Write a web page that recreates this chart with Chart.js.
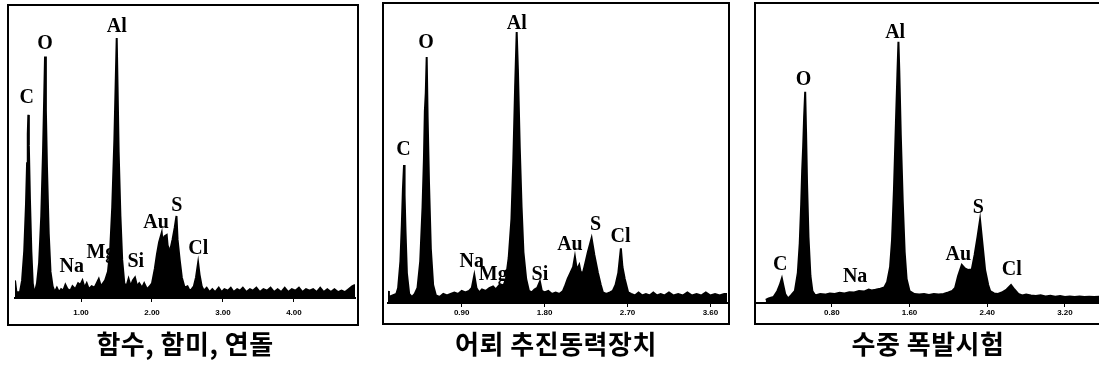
<!DOCTYPE html>
<html>
<head>
<meta charset="utf-8">
<script src="https://cdn.jsdelivr.net/npm/chart.js@4.4.0/dist/chart.umd.min.js"></script>
<style>
    body {
        margin: 0;
        width: 1099px;
        height: 368px;
        overflow: hidden;
        background: #fff;
        position: relative;
    }
    canvas {
        position: absolute;
    }
    .caption {
        position: absolute;
        top: 327px;
        line-height: 32px;
        transform: translateX(-50%);
        white-space: nowrap;
        font-family: "Noto Sans CJK KR", sans-serif;
        font-weight: 700;
        font-size: 26px;
        letter-spacing: 0.5px;
        color: #000;
    }
</style>
</head>
<body>

<canvas id="spec1" width="352" height="322" style="left:7px; top:4px;"></canvas>
<canvas id="spec2" width="348" height="323" style="left:382px; top:2px;"></canvas>
<canvas id="spec3" width="360" height="323" style="left:754px; top:2px;"></canvas>

<div class="caption" id="cap1" style="left:185px;"></div>
<div class="caption" id="cap2" style="left:556px;"></div>
<div class="caption" id="cap3" style="left:928px;"></div>

<script>
// ------------------------------
// Captions
// ------------------------------

const captions = ["함수, 함미, 연돌", "어뢰 추진동력장치", "수중 폭발시험"];

// ------------------------------
// Spectrum 1 (keV / relative counts)
// ------------------------------

const energy1 = [
    0.07, 0.09, 0.12, 0.14, 0.17, 0.20, 0.225, 0.24, 0.25, 0.258, 0.265, 0.28, 0.30, 0.32, 0.34, 0.36,
    0.38, 0.41, 0.44, 0.465, 0.48, 0.493, 0.505, 0.52, 0.545, 0.57, 0.60, 0.63,
    0.66, 0.69, 0.72, 0.75, 0.78, 0.81, 0.85, 0.88, 0.92, 0.96, 0.99, 1.02, 1.05, 1.08, 1.11, 1.15,
    1.19, 1.22, 1.25, 1.28, 1.31, 1.34,
    1.38, 1.41, 1.44, 1.47, 1.49, 1.503, 1.515, 1.53, 1.555, 1.58, 1.61, 1.64, 1.67, 1.70, 1.73,
    1.76, 1.79, 1.82, 1.86, 1.89, 1.93, 1.97,
    2.00, 2.04, 2.07, 2.10, 2.137, 2.15, 2.175, 2.207, 2.22, 2.25, 2.263, 2.29, 2.32, 2.345, 2.36,
    2.39, 2.42, 2.46, 2.50, 2.53, 2.56,
    2.59, 2.62, 2.65, 2.67, 2.70, 2.73,
    2.77, 2.81, 2.85, 2.89, 2.94, 2.98, 3.02, 3.07, 3.11, 3.15, 3.20, 3.24, 3.28, 3.33, 3.38, 3.42,
    3.47, 3.52, 3.57, 3.62, 3.67, 3.72, 3.77, 3.82, 3.87, 3.92, 3.97, 4.02, 4.07, 4.12, 4.17, 4.22,
    4.27, 4.32, 4.37, 4.42, 4.47, 4.52, 4.57, 4.62, 4.67, 4.72, 4.77, 4.82, 4.86
];
const counts1 = [
    6, 2, 2, 2, 6, 16, 32, 46, 56, 62.5, 52, 34, 16, 5, 2, 3,
    5, 12, 28, 50, 67, 82.4, 64, 45, 22, 9, 4, 2,
    3.5, 2, 3, 2.5, 4.5, 3, 2.5, 4, 3, 5, 4.5, 6, 3.5, 5, 3, 4,
    3.5, 5, 6.5, 4, 5, 6,
    9, 16, 31, 54, 75, 88.7, 72, 50, 28, 13, 5, 4, 6.5, 4, 6,
    7, 4, 5, 3.5, 5, 3, 4,
    5, 10, 15, 19, 22.2, 19, 21, 21.5, 18, 16, 17, 20, 24, 28, 20,
    13, 7, 3.5, 4, 2.5, 3,
    4, 7, 12, 8, 4, 2.5,
    3.5, 2, 3, 2, 3.5, 2, 3, 2.5, 3.5, 2, 3, 2.5, 3.5, 2, 3, 2.5,
    3.5, 2, 3, 2.5, 3.5, 2, 3, 2, 3.5, 2, 3, 2.5, 3.5, 2, 3, 2.5,
    3, 2, 3.5, 2, 3, 2, 3, 2, 2.5, 2, 3, 4, 4.5
];
const ticks1 = [1, 2, 3, 4];
const tickLabels1 = ["1.00", "2.00", "3.00", "4.00"];
const peaks1 = ["C", "O", "Al", "Na", "Mg", "Si", "Au", "S", "Cl"];
const peakEnergy1 = [0.235, 0.493, 1.503, 0.869, 1.28, 1.772, 2.056, 2.348, 2.652];
const peakCounts1 = [68.3, 86.9, 92.6, 10.7, 15.4, 12.4, 25.5, 31.5, 16.7];

// ------------------------------
// Spectrum 2
// ------------------------------

const energy2 = [
    0.10, 0.11, 0.15, 0.19,
    0.21, 0.235, 0.25, 0.262, 0.274, 0.28, 0.29, 0.305, 0.33, 0.36, 0.39,
    0.42, 0.45, 0.475, 0.49, 0.50, 0.51, 0.52, 0.53, 0.545, 0.565, 0.59, 0.62,
    0.66, 0.70, 0.74, 0.78, 0.82, 0.86, 0.90, 0.94, 0.98,
    1.01, 1.037, 1.06, 1.09, 1.12, 1.16, 1.20, 1.24, 1.27, 1.31, 1.35,
    1.38, 1.41, 1.44, 1.46, 1.48, 1.497, 1.51, 1.53, 1.55, 1.57, 1.60, 1.63,
    1.66, 1.69, 1.72, 1.749, 1.77, 1.80, 1.84, 1.88, 1.92, 1.96, 2.00,
    2.02, 2.05, 2.08, 2.11, 2.129, 2.15, 2.176, 2.19, 2.216, 2.24, 2.27, 2.31, 2.34, 2.379, 2.41,
    2.433, 2.47, 2.51,
    2.54, 2.57, 2.60, 2.628, 2.645, 2.67, 2.707, 2.74,
    2.78, 2.82, 2.86, 2.90, 2.94, 2.98, 3.02, 3.06, 3.10, 3.15, 3.20, 3.25, 3.30, 3.35, 3.40,
    3.45, 3.50, 3.55, 3.60, 3.65, 3.70, 3.75, 3.78
];
const counts2 = [
    4, 2, 2.5, 3,
    5, 14, 26, 38, 46, 36, 24, 10, 3, 2, 3,
    5, 14, 32, 48, 64, 70, 82, 62, 40, 18, 6, 2.5,
    2, 3, 2.5, 3, 3.5, 3, 4, 3.5, 4,
    5, 9.3, 5, 3.5, 4.5, 4, 5, 5.5, 4.5, 6, 5.5,
    8, 15, 28, 47, 72, 90.3, 78, 52, 32, 17, 8, 4,
    3.5, 4.5, 5, 7.1, 4, 3.5, 4, 3, 3.5, 3, 4,
    5.5, 8, 10, 12, 15.4, 11, 12.7, 10.5, 10, 13, 17, 21.6, 16, 10, 6,
    3.5, 3, 3.5,
    4, 6, 10, 18.2, 12, 8, 3.5, 3,
    2.5, 3.5, 2.5, 3, 2.5, 3.5, 2.5, 3, 2.5, 3.5, 2.5, 3, 2.5, 3.5, 2.5,
    3, 2.5, 3.5, 2.5, 3, 2.5, 3, 3
];
const ticks2 = [0.9, 1.8, 2.7, 3.6];
const tickLabels2 = ["0.90", "1.80", "2.70", "3.60"];
const peaks2 = ["C", "O", "Al", "Na", "Mg", "Si", "Au", "S", "Cl"];
const peakEnergy2 = [0.267, 0.513, 1.497, 1.009, 1.243, 1.749, 2.075, 2.353, 2.625];
const peakCounts2 = [51, 86.6, 93.2, 13.8, 9.3, 9.3, 19.3, 26, 22.1];

// ------------------------------
// Spectrum 3
// ------------------------------

const energy3 = [
    0.12, 0.15, 0.20, 0.24,
    0.265, 0.286, 0.30, 0.32, 0.35, 0.38,
    0.42, 0.45, 0.47, 0.485, 0.495, 0.505, 0.515, 0.526, 0.535, 0.545, 0.56, 0.58, 0.60, 0.63,
    0.68, 0.73, 0.78, 0.83, 0.88, 0.93, 0.98, 1.03, 1.08, 1.13, 1.18, 1.21, 1.25, 1.30, 1.34, 1.37,
    1.40, 1.42, 1.44, 1.46, 1.475, 1.486, 1.495, 1.51, 1.53, 1.55, 1.57, 1.60,
    1.65, 1.70, 1.75, 1.80, 1.85, 1.90, 1.95, 2.00, 2.04,
    2.069, 2.10, 2.138, 2.17, 2.20, 2.241, 2.27, 2.30, 2.326, 2.35, 2.378, 2.41, 2.43,
    2.47, 2.51, 2.55, 2.60, 2.645, 2.68, 2.72,
    2.76, 2.80, 2.85, 2.90, 2.95, 3.00, 3.05, 3.10, 3.15, 3.20, 3.25, 3.30, 3.35, 3.40, 3.45,
    3.50, 3.55, 3.60, 3.65, 3.67
];
const counts3 = [
    1, 1.5, 2, 4,
    6, 8.2, 6, 3, 1.5, 2.5,
    4, 10, 20, 33, 44, 52, 62, 70.4, 57, 40, 22, 9, 4, 2.5,
    3, 2.8, 3.2, 3, 3.4, 3.2, 3.6, 3.5, 4, 3.8, 4.5, 4.2, 4.4, 4.8, 5.2, 7,
    12, 21, 38, 60, 76, 87.1, 77, 56, 34, 17, 8, 4,
    3, 2.8, 3, 2.7, 3, 2.8, 3, 3.5, 4,
    5, 9, 12.7, 11.5, 11, 11.2, 16, 22, 27.7, 20, 11, 6, 4,
    3.2, 3, 3.5, 4.5, 6, 4.5, 3,
    2.5, 2.8, 2.5, 2.3, 2.6, 2.2, 2.4, 2.1, 2.3, 2, 2.2, 2, 2.2, 2, 2.1,
    2, 2.1, 2, 2.1, 2
];
const ticks3 = [0.8, 1.6, 2.4, 3.2];
const tickLabels3 = ["0.80", "1.60", "2.40", "3.20"];
const peaks3 = ["C", "O", "Al", "Na", "Au", "S", "Cl"];
const peakEnergy3 = [0.269, 0.508, 1.452, 1.04, 2.103, 2.309, 2.652];
const peakCounts3 = [12.7, 74.3, 89.9, 8.8, 16, 31.6, 11];

// ------------------------------
// Plugins: outer frame + peak names
// ------------------------------

const framePlugin = {
    id: "frame",
    afterDraw(chart) {
        const ctx = chart.ctx;
        ctx.save();
        ctx.strokeStyle = "#000";
        ctx.lineWidth = 2;
        ctx.strokeRect(1, 1, chart.width - 2, chart.height - 2);
        ctx.restore();
    }
};

const peakLabelPlugin = {
    id: "peakLabels",
    afterDatasetsDraw(chart, args, opts) {
        const ctx = chart.ctx;
        const x = chart.scales.x;
        const y = chart.scales.y;
        ctx.save();
        ctx.fillStyle = "#000";
        ctx.font = "bold 20px 'Liberation Serif'";
        ctx.textAlign = "center";
        ctx.textBaseline = "middle";
        opts.names.forEach((name, i) => {
            ctx.fillText(name, x.getPixelForValue(opts.energy[i]), y.getPixelForValue(opts.counts[i]));
        });
        ctx.restore();
    }
};

// ------------------------------
// Spectrum chart
// ------------------------------

function drawSpectrum(id, energy, counts, range, tickValues, tickLabels, names, peakE, peakC, layout) {

    new Chart(document.getElementById(id), {

        type: "line",

        data: {
            datasets: [{
                data: energy.map((e, i) => ({ x: e, y: counts[i] })),
                borderColor: "#000",
                backgroundColor: "#000",
                borderWidth: 2,
                fill: "origin",
                pointRadius: 0,
                tension: 0
            }]
        },

        options: {
            responsive: false,
            animation: false,
            devicePixelRatio: 1,
            layout: { padding: layout.padding },
            plugins: {
                legend: { display: false },
                tooltip: { enabled: false },
                peakLabels: { names: names, energy: peakE, counts: peakC }
            },
            scales: {
                x: {
                    type: "linear",
                    min: range[0],
                    max: range[1],
                    afterBuildTicks: (s) => { s.ticks = tickValues.map(v => ({ value: v })); },
                    afterFit: (s) => { s.height = layout.axisHeight; },
                    ticks: {
                        callback: (v, i) => tickLabels[i],
                        color: "#000",
                        font: { family: "Liberation Sans", size: 8, weight: "bold" },
                        padding: layout.tickPad,
                        maxRotation: 0,
                        autoSkip: false
                    },
                    grid: {
                        drawOnChartArea: false,
                        drawTicks: true,
                        tickLength: 4,
                        color: "#000"
                    },
                    border: { display: true, color: "#000", width: 2 }
                },
                y: {
                    display: false,
                    min: 0,
                    max: 100
                }
            }
        },

        plugins: [framePlugin, peakLabelPlugin]
    });
}

drawSpectrum("spec1", energy1, counts1, [0.07, 4.86], ticks1, tickLabels1, peaks1, peakEnergy1, peakCounts1,
    { padding: { left: 8, right: 4, top: 1, bottom: 0 }, axisHeight: 28, tickPad: 6 });

drawSpectrum("spec2", energy2, counts2, [0.10, 3.78], ticks2, tickLabels2, peaks2, peakEnergy2, peakCounts2,
    { padding: { left: 6, right: 3, top: 1, bottom: 0 }, axisHeight: 22, tickPad: 1 });

drawSpectrum("spec3", energy3, counts3, [0.03, 3.674], ticks3, tickLabels3, peaks3, peakEnergy3, peakCounts3,
    { padding: { left: 3, right: 3, top: 1, bottom: 0 }, axisHeight: 22, tickPad: 1 });

document.getElementById("cap1").textContent = captions[0];
document.getElementById("cap2").textContent = captions[1];
document.getElementById("cap3").textContent = captions[2];
</script>
</body>
</html>
